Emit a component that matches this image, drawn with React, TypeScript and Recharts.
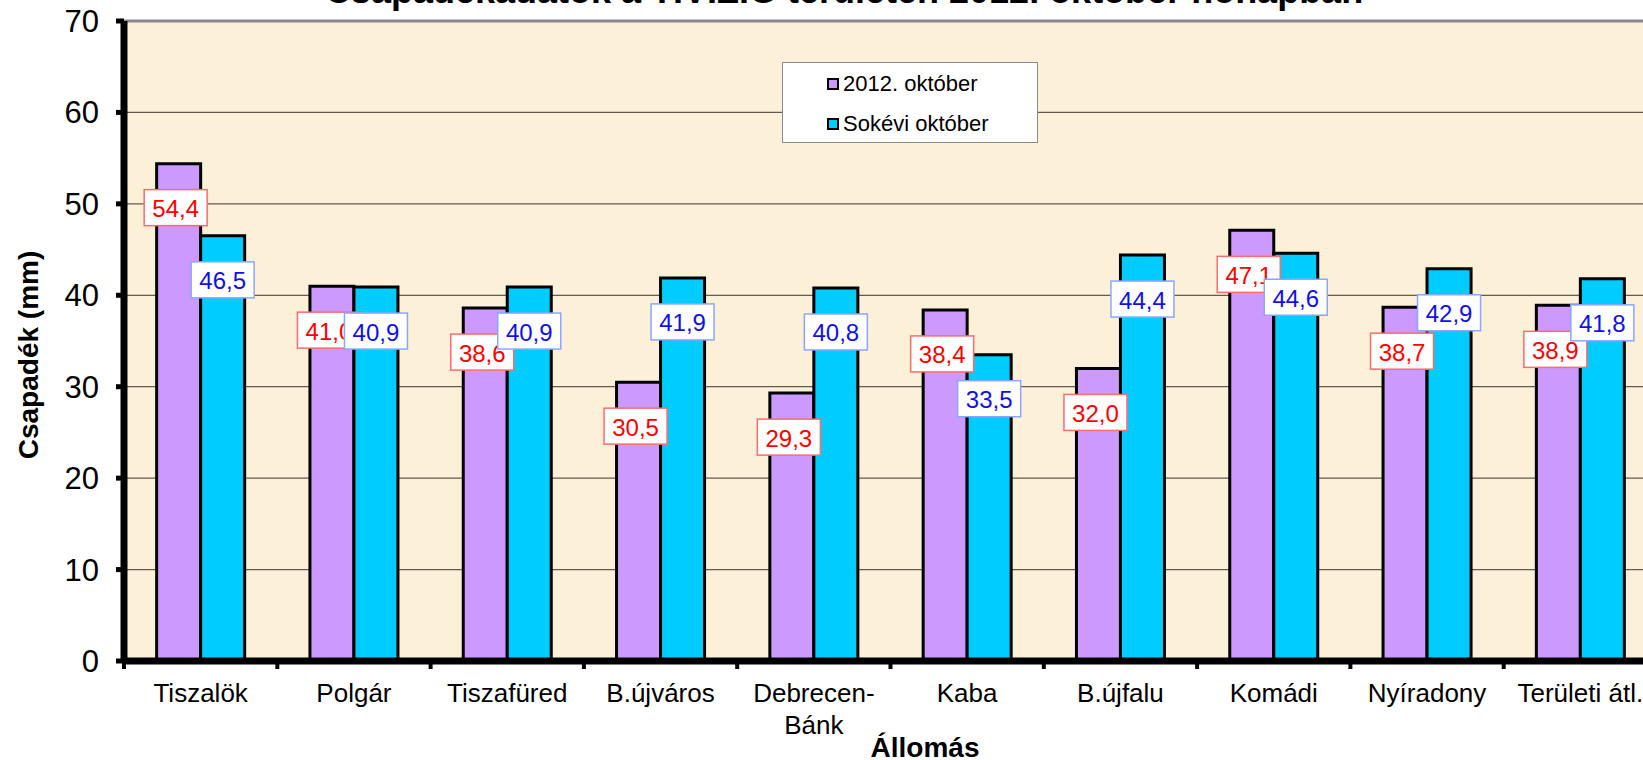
import { BarChart, Bar, XAxis, YAxis, CartesianGrid, Legend, LabelList, ReferenceLine } from "recharts"

const STATIONS = ["Tiszalök", "Polgár", "Tiszafüred", "B.újváros", "Debrecen-Bánk", "Kaba", "B.újfalu", "Komádi", "Nyíradony", "Területi átl."]
const OKT_2012 = [54.4, 41.0, 38.6, 30.5, 29.3, 38.4, 32.0, 47.1, 38.7, 38.9]
const SOKEVI = [46.5, 40.9, 40.9, 41.9, 40.8, 33.5, 44.4, 44.6, 42.9, 41.8]
const Y_TICKS = [0, 10, 20, 30, 40, 50, 60, 70]

const TITLE = "Csapadékadatok a TIVIZIG területén 2012. október hónapban"
const FONT = "'Liberation Sans', Arial, sans-serif"

const PURPLE = "#CC99FF"
const CYAN = "#00CCFF"

const PLOT_W = 1533
const BAND = PLOT_W / STATIONS.length

const data = STATIONS.map((name, i) => ({ name, okt: OKT_2012[i], sok: SOKEVI[i] }))

const fmt = (v: number) => v.toFixed(1).replace(".", ",")

function StationTick({ x, y, payload }: any) {
  const label: string = payload.value
  const lines = label.includes("-") ? [label.slice(0, label.indexOf("-") + 1), label.slice(label.indexOf("-") + 1)] : [label]
  return (
    <g>
      <line x1={x - BAND / 2} x2={x - BAND / 2} y1={y} y2={y + 8} stroke="#000" strokeWidth={4} />
      {lines.map((ln, i) => (
        <text key={i} x={x} y={y + 41 + i * 32} textAnchor="middle" fontSize={26} fontFamily={FONT} fill="#000">
          {ln}
        </text>
      ))}
    </g>
  )
}

// white boxed value labels, a little below the bar top (as in the Excel original)
function makeValueLabel(border: string, color: string, dx: number) {
  return (props: any) => {
    const { x, y, width, value } = props
    const cx = x + width / 2 + dx
    const top = y + 26
    return (
      <g>
        <rect x={cx - 31.5} y={top} width={63} height={36} fill="#fff" stroke={border} strokeWidth={1.5} />
        <text x={cx} y={top + 19} textAnchor="middle" dominantBaseline="central" fontSize={24} fontFamily={FONT} fill={color}>
          {fmt(value)}
        </text>
      </g>
    )
  }
}

function LegendBox({ payload }: any) {
  return (
    <div
      style={{
        background: "#fff",
        border: "1.5px solid #8a8a8a",
        boxSizing: "border-box",
        width: 256,
        height: 81,
        fontFamily: FONT,
        fontSize: 22,
        color: "#000",
      }}
    >
      {(payload || []).map((p: any, i: number) => (
        <div key={i} style={{ height: 40, display: "flex", alignItems: "center", paddingLeft: 44, marginTop: i === 0 ? 1 : 0 }}>
          <span
            style={{
              width: 12,
              height: 12,
              background: p.color,
              border: "2px solid #000",
              boxSizing: "border-box",
              display: "inline-block",
              marginRight: 4,
            }}
          />
          <span>{p.value}</span>
        </div>
      ))}
    </div>
  )
}

export default function App() {
  return (
    <div style={{ position: "absolute", left: 0, top: 0, width: 1643, height: 760, overflow: "hidden", background: "#fff" }}>
      <div
        style={{
          position: "absolute",
          left: 844,
          top: -27,
          transform: "translateX(-50%)",
          whiteSpace: "nowrap",
          fontFamily: FONT,
          fontWeight: "bold",
          fontSize: 36,
          lineHeight: "36px",
          zIndex: 2,
        }}
      >
        {TITLE}
      </div>
      <div style={{ position: "absolute", left: 0, top: -40 }}>
        <BarChart
          width={1700}
          height={800}
          data={data}
          margin={{ top: 61, right: 43, bottom: 59, left: 64 }}
          barCategoryGap="21.3%"
          barGap={0}
        >
          <CartesianGrid vertical={false} stroke="#64594f" strokeWidth={1.2} fill="#FCF0D9" />
          <ReferenceLine y={70} stroke="#8a8a8a" strokeWidth={3} />
          <YAxis
            domain={[0, 70]}
            ticks={Y_TICKS}
            width={60}
            tickSize={8}
            tickMargin={17}
            axisLine={{ stroke: "#000", strokeWidth: 7 }}
            tickLine={{ stroke: "#000", strokeWidth: 5 }}
            tick={{ fill: "#000", fontSize: 31, fontFamily: FONT }}
            label={{
              content: () => (
                <text
                  x={28}
                  y={395}
                  transform="rotate(-90, 28, 395)"
                  textAnchor="middle"
                  dominantBaseline="central"
                  fontSize={28}
                  fontWeight="bold"
                  fontFamily={FONT}
                  fill="#000"
                >
                  Csapadék (mm)
                </text>
              ),
            }}
          />
          <Legend
            layout="vertical"
            align="center"
            verticalAlign="middle"
            content={<LegendBox />}
            wrapperStyle={{ position: "absolute", left: 782, top: 102, width: 256, height: 81 }}
          />
          <Bar dataKey="okt" name="2012. október" fill={PURPLE} stroke="#000" strokeWidth={3} isAnimationActive={false}>
            <LabelList dataKey="okt" content={makeValueLabel("#ff6b6b", "#ff0000", -3)} />
          </Bar>
          <Bar dataKey="sok" name="Sokévi október" fill={CYAN} stroke="#000" strokeWidth={3} isAnimationActive={false}>
            <LabelList dataKey="sok" content={makeValueLabel("#8aa6ff", "#1010ee", 0)} />
          </Bar>
          <XAxis
            dataKey="name"
            height={40}
            tickSize={0}
            tickMargin={0}
            tickLine={false}
            interval={0}
            axisLine={{ stroke: "#000", strokeWidth: 7 }}
            tick={<StationTick />}
            label={{
              content: () => (
                <text x={925} y={797} textAnchor="middle" fontSize={28} fontWeight="bold" fontFamily={FONT} fill="#000">
                  Állomás
                </text>
              ),
            }}
          />
        </BarChart>
      </div>
    </div>
  )
}
